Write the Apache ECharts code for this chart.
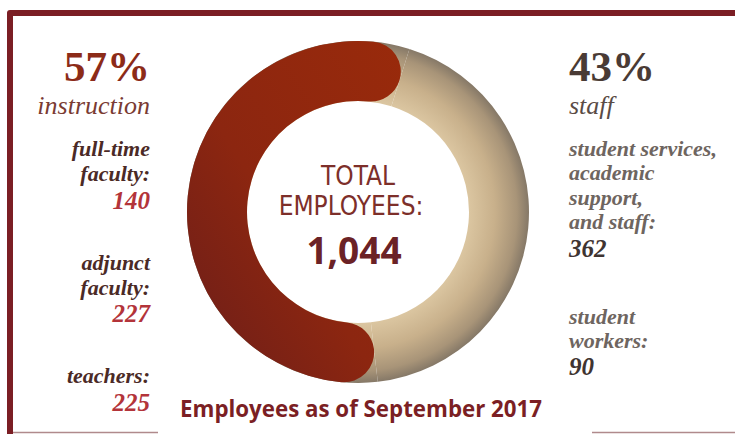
<!DOCTYPE html>
<html>
<head>
<meta charset="utf-8">
<script src="https://cdn.jsdelivr.net/npm/echarts@6/dist/echarts.min.js"></script>
<style>
html,body{margin:0;padding:0;background:#fff;}
#chart{width:735px;height:434px;}
</style>
</head>
<body>
<div id="chart"></div>
<script>
// ---- data ----
const groupNames = ['instruction', 'staff'];
const instructionCats = ['full-time\nfaculty:', 'adjunct\nfaculty:', 'teachers:'];
const instructionVals = [140, 227, 225];
const staffCats = ['student services,\nacademic\nsupport,\nand staff:', 'student\nworkers:'];
const staffVals = [362, 90];
const captionText = 'Employees as of September 2017';
const centerLines = ['TOTAL', 'EMPLOYEES:'];

const sum = a => a.reduce((s, v) => s + v, 0);
const instructionTotal = sum(instructionVals);
const staffTotal = sum(staffVals);
const total = instructionTotal + staffTotal;
const pctInstr = Math.round(instructionTotal / total * 100);
const pctStaff = Math.round(staffTotal / total * 100);

const chart = echarts.init(document.getElementById('chart'), null, {renderer: 'svg'});

const CX = 358, CY = 212, R0 = 111, R1 = 171;
const red = '#7b1e24';
const beigeGrad = new echarts.graphic.RadialGradient(CX, CY, R1, [
  {offset: 0.64, color: '#dcc7a2'},
  {offset: 0.80, color: '#c8b08b'},
  {offset: 0.93, color: '#a89478'},
  {offset: 1.00, color: '#857867'}
], true);
const redGrad = new echarts.graphic.LinearGradient(1, 0, 0, 1, [
  {offset: 0, color: '#992a0b'},
  {offset: 0.55, color: '#8c2610'},
  {offset: 1, color: '#6a1d1a'}
]);

const serif = '"Liberation Serif", "DejaVu Serif", serif';
const labelColL = '#4b2a26', numColL = '#b3343a';
const labelColR = '#6e6560', numColR = '#3f3431';

function txt(text, x, y, font, color, align) {
  return {type: 'text', x: x, y: y, silent: true,
    style: {text: text, font: font, fill: color, align: align || 'left', verticalAlign: 'middle'}};
}

const graphics = [
  // frame
  {type: 'polyline', silent: true, shape: {points: [[10, 434], [10, 13], [735, 13]]},
   style: {stroke: red, lineWidth: 6, lineJoin: 'round', fill: null}},
  {type: 'line', silent: true, shape: {x1: 13, y1: 432.5, x2: 158, y2: 432.5}, style: {stroke: '#b08a8c', lineWidth: 1.5}},
  {type: 'line', silent: true, shape: {x1: 592, y1: 432.5, x2: 735, y2: 432.5}, style: {stroke: '#b08a8c', lineWidth: 1.5}},
  // center
  txt(centerLines[0], 358, 176, '26px "Liberation Sans Narrow", "DejaVu Sans Condensed", sans-serif', '#7d2f2a', 'center'),
  txt(centerLines[1], 351, 206, '26px "Liberation Sans Narrow", "DejaVu Sans Condensed", sans-serif', '#7d2f2a', 'center'),
  txt(total.toLocaleString('en-US'), 354, 249, 'bold 37px "Open Sans", sans-serif', '#6b2226', 'center'),
  // left column
  txt(pctInstr + '%', 150, 66.5, 'bold 43px ' + serif, '#8c2b18', 'right'),
  txt(groupNames[0], 150, 105, 'italic 26px ' + serif, '#7a3b33', 'right'),
  // right column
  txt(pctStaff + '%', 569, 66.5, 'bold 43px ' + serif, '#4a3b35', 'left'),
  txt(groupNames[1], 569, 105, 'italic 26px ' + serif, '#5a4b45', 'left')
];

// left labels
const leftLabelY = [148, 262, 375];
const leftNumY = [200, 313.5, 402];
instructionCats.forEach((c, i) => {
  const lines = c.split('\n');
  lines.forEach((l, j) => graphics.push(txt(l, 150, leftLabelY[i] + j * 25, 'italic bold 22px ' + serif, labelColL, 'right')));
  graphics.push(txt(String(instructionVals[i]), 150, leftNumY[i], 'italic bold 25px ' + serif, numColL, 'right'));
});
// right labels
const rightLabelY = [148, 316];
const rightNumY = [248.5, 366.5];
staffCats.forEach((c, i) => {
  const lines = c.split('\n');
  lines.forEach((l, j) => graphics.push(txt(l, 569, rightLabelY[i] + j * 24.6, 'italic bold 22px ' + serif, labelColR, 'left')));
  graphics.push(txt(String(staffVals[i]), 569, rightNumY[i], 'italic bold 25px ' + serif, numColR, 'left'));
});

const groupData = [
  {name: groupNames[0], value: instructionTotal},
  {name: groupNames[1], value: staffTotal}
];

chart.setOption({
  backgroundColor: '#ffffff',
  animation: false,
  title: {
    text: captionText, left: 175, top: 392,
    textStyle: {fontFamily: '"Open Sans", sans-serif', fontWeight: 'bold', fontSize: 22.3, color: '#7b1f24'}
  },
  series: [
    {
      type: 'pie', silent: true, center: [CX, CY], radius: [R0, R1],
      startAngle: 72.5, clockwise: false, label: {show: false}, labelLine: {show: false},
      itemStyle: {color: beigeGrad, borderWidth: 0},
      data: groupData
    },
    {
      type: 'pie', silent: true, center: [CX, CY], radius: [R0, R1],
      startAngle: 72.5, clockwise: false, label: {show: false}, labelLine: {show: false},
      data: [
        {name: groupNames[0], value: instructionTotal, itemStyle: {color: redGrad, borderRadius: 30}},
        {name: groupNames[1], value: staffTotal, itemStyle: {color: 'rgba(0,0,0,0)'}}
      ]
    }
  ],
  graphic: graphics
});
</script>
</body>
</html>
